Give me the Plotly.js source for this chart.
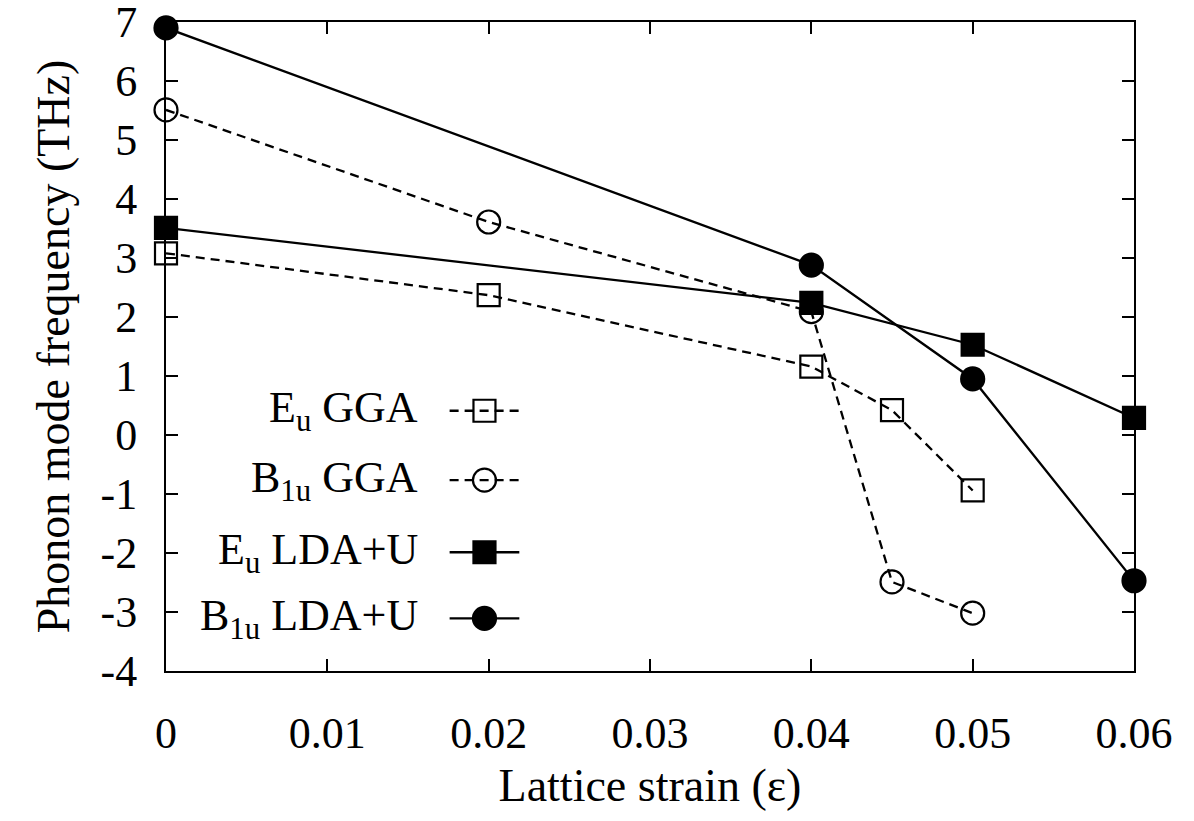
<!DOCTYPE html>
<html>
<head>
<meta charset="utf-8">
<script src="https://cdn.plot.ly/plotly-3.0.1.min.js"></script>
<style>
html,body{margin:0;padding:0;background:#fff;}
svg text{font-family:"Liberation Serif","Times New Roman",serif !important;}
</style>
</head>
<body>
<div id="chart" style="width:1194px;height:821px"></div>
<script>
// Data
const euGgaX = [0, 0.02, 0.04, 0.045, 0.05];
const euGgaY = [3.08, 2.37, 1.16, 0.42, -0.94];
const b1uGgaX = [0, 0.02, 0.04, 0.045, 0.05];
const b1uGgaY = [5.51, 3.61, 2.09, -2.49, -3.02];
const euLdaX = [0, 0.04, 0.05, 0.06];
const euLdaY = [3.51, 2.24, 1.53, 0.29];
const b1uLdaX = [0, 0.04, 0.05, 0.06];
const b1uLdaY = [6.9, 2.88, 0.95, -2.47];
const seriesNames = ["E<sub>u</sub> GGA", "B<sub>1u</sub> GGA", "E<sub>u</sub> LDA+U", "B<sub>1u</sub> LDA+U"];
const xTickVals = [0, 0.01, 0.02, 0.03, 0.04, 0.05, 0.06];
const xTickText = ["0", "0.01", "0.02", "0.03", "0.04", "0.05", "0.06"];
const yTickVals = [-4, -3, -2, -1, 0, 1, 2, 3, 4, 5, 6, 7];
const yTickText = ["-4", "-3", "-2", "-1", "0", "1", "2", "3", "4", "5", "6", "7"];

const FONT = "Liberation Serif, Times New Roman, serif";
const dashStyle = "9px,6px";
const styles = [
  {dash: dashStyle, symbol: "square-open"},
  {dash: dashStyle, symbol: "circle-open"},
  {dash: "solid", symbol: "square"},
  {dash: "solid", symbol: "circle"}
];
const xs = [euGgaX, b1uGgaX, euLdaX, b1uLdaX];
const ys = [euGgaY, b1uGgaY, euLdaY, b1uLdaY];

function mk(sym) {
  return {symbol: sym, size: sym.indexOf("square") === 0 ? 22 : 23,
          color: "#000", line: {color: "#000", width: 2.2}};
}

const traces = [];
for (let i = 0; i < 4; i++) {
  traces.push({
    x: xs[i], y: ys[i], type: "scatter", mode: "lines+markers",
    name: seriesNames[i], showlegend: false, cliponaxis: false,
    line: {color: "#000", width: 2.3, dash: styles[i].dash},
    marker: mk(styles[i].symbol)
  });
}

// manual legend on an overlay axis (fractions of plot area)
const legRowsY = [0.401, 0.294, 0.183, 0.081];
const legX0 = 0.293, legX1 = 0.365, legXm = 0.329;
const annotations = [];
for (let i = 0; i < 4; i++) {
  traces.push({
    x: [legX0, legXm, legX1], y: [legRowsY[i], legRowsY[i], legRowsY[i]],
    xaxis: "x2", yaxis: "y2", type: "scatter", mode: "lines", showlegend: false,
    hoverinfo: "skip", line: {color: "#000", width: 2.3, dash: styles[i].dash}
  });
  traces.push({
    x: [legXm], y: [legRowsY[i]],
    xaxis: "x2", yaxis: "y2", type: "scatter", mode: "markers", showlegend: false,
    hoverinfo: "skip", marker: mk(styles[i].symbol)
  });
  annotations.push({
    xref: "x2", yref: "y2", x: 0.262, y: legRowsY[i], xanchor: "right", yanchor: "middle",
    text: seriesNames[i], showarrow: false, font: {size: 44, color: "#000"}
  });
}

const layout = {
  width: 1194, height: 821,
  margin: {l: 166, r: 60, t: 22, b: 150},
  paper_bgcolor: "#fff", plot_bgcolor: "#fff",
  font: {family: FONT, size: 44, color: "#000"},
  showlegend: false,
  xaxis: {
    range: [0, 0.06], tickvals: xTickVals, ticktext: xTickText,
    ticks: "inside", ticklen: 12, tickwidth: 1.5, tickcolor: "#000",
    showline: true, linecolor: "#000", linewidth: 2, mirror: "ticks",
    showgrid: false, zeroline: false, ticklabelstandoff: 22, ticklabeloverflow: "allow",
    tickfont: {size: 44, color: "#000"},
    title: {text: "Lattice strain (ε)", font: {size: 46, color: "#000"}, standoff: 12}
  },
  yaxis: {
    range: [-4, 7], tickvals: yTickVals, ticktext: yTickText,
    ticks: "inside", ticklen: 12, tickwidth: 1.5, tickcolor: "#000",
    showline: true, linecolor: "#000", linewidth: 2, mirror: "ticks",
    showgrid: false, zeroline: false, ticklabelstandoff: 18, ticklabeloverflow: "allow",
    tickfont: {size: 44, color: "#000"},
    title: {text: "Phonon mode frequency (THz)", font: {size: 46, color: "#000"}, standoff: 16}
  },
  xaxis2: {overlaying: "x", range: [0, 1], visible: false, fixedrange: true},
  yaxis2: {overlaying: "y", range: [0, 1], visible: false, fixedrange: true},
  annotations: annotations
};

Plotly.newPlot("chart", traces, layout, {displayModeBar: false});
</script>
</body>
</html>
